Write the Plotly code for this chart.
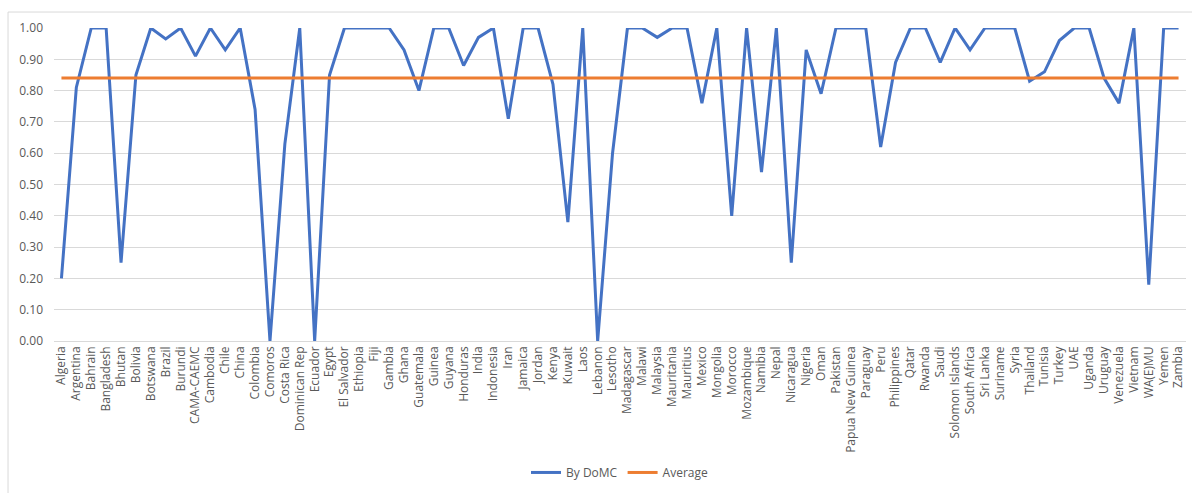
import plotly.graph_objects as go

countries = [
    "Algeria", "Argentina", "Bahrain", "Bangladesh", "Bhutan", "Bolivia", "Botswana",
    "Brazil", "Burundi", "CAMA-CAEMC", "Cambodia", "Chile", "China", "Colombia",
    "Comoros", "Costa Rica", "Dominican Rep", "Ecuador", "Egypt", "El Salvador",
    "Ethiopia", "Fiji", "Gambia", "Ghana", "Guatemala", "Guinea", "Guyana", "Honduras",
    "India", "Indonesia", "Iran", "Jamaica", "Jordan", "Kenya", "Kuwait", "Laos",
    "Lebanon", "Lesotho", "Madagascar", "Malawi", "Malaysia", "Mauritania", "Mauritius",
    "Mexico", "Mongolia", "Morocco", "Mozambique", "Namibia", "Nepal", "Nicaragua",
    "Nigeria", "Oman", "Pakistan", "Papua New Guinea", "Paraguay", "Peru", "Philippines",
    "Qatar", "Rwanda", "Saudi", "Solomon Islands", "South Africa", "Sri Lanka",
    "Suriname", "Syria", "Thailand", "Tunisia", "Turkey", "UAE", "Uganda", "Uruguay",
    "Venezuela", "Vietnam", "WA(E)MU", "Yemen", "Zambia",
]

by_domc = [
    0.20, 0.81, 1.00, 1.00, 0.25, 0.85, 1.00,
    0.965, 1.00, 0.91, 1.00, 0.93, 1.00, 0.74,
    0.00, 0.63, 1.00, 0.00, 0.85, 1.00,
    1.00, 1.00, 1.00, 0.93, 0.80, 1.00, 1.00, 0.88,
    0.97, 1.00, 0.71, 1.00, 1.00, 0.82, 0.38, 1.00,
    0.00, 0.60, 1.00, 1.00, 0.97, 1.00, 1.00,
    0.76, 1.00, 0.40, 1.00, 0.54, 1.00, 0.25,
    0.93, 0.79, 1.00, 1.00, 1.00, 0.62, 0.89,
    1.00, 1.00, 0.89, 1.00, 0.93, 1.00,
    1.00, 1.00, 0.83, 0.86, 0.96, 1.00, 1.00, 0.84,
    0.76, 1.00, 0.18, 1.00, 1.00,
]

average_value = 0.84
average = [average_value] * len(countries)

y_ticks = [i / 10 for i in range(11)]

font_family = "'Open Sans', sans-serif"
text_color = "#595959"
grid_color = "#d9d9d9"

fig = go.Figure()
fig.add_trace(go.Scatter(
    x=countries, y=by_domc, mode="lines", name="By DoMC",
    line=dict(color="#4472C4", width=3),
))
fig.add_trace(go.Scatter(
    x=countries, y=average, mode="lines", name="Average",
    line=dict(color="#ED7D31", width=3),
))

# Chart frame (top and left edges)
fig.add_shape(type="line", xref="paper", yref="paper",
              x0=-0.0406, x1=1.2, y0=1.051, y1=1.051,
              line=dict(color=grid_color, width=1))
fig.add_shape(type="line", xref="paper", yref="paper",
              x0=-0.0406, x1=-0.0406, y0=1.051, y1=-1.0,
              line=dict(color=grid_color, width=1))

fig.update_layout(
    width=1192, height=493,
    margin=dict(l=54, r=6, t=28, b=152),
    paper_bgcolor="white", plot_bgcolor="white",
    font=dict(family=font_family, size=12, color=text_color),
    showlegend=True,
    legend=dict(
        orientation="h", x=0.5, xanchor="center", y=-0.42, yanchor="middle",
        font=dict(family=font_family, size=12, color=text_color),
        itemwidth=30,
    ),
    hovermode=False,
)
fig.update_xaxes(
    type="category", range=[-0.5, len(countries) - 0.5],
    tickangle=-90, showgrid=False, showline=False, ticks="",
    tickfont=dict(family=font_family, size=12, color=text_color),
    ticklabelstandoff=2,
)
fig.update_yaxes(
    range=[0, 1], tickvals=y_ticks, tickformat=".2f",
    showgrid=True, gridcolor=grid_color, gridwidth=1,
    zeroline=True, zerolinecolor=grid_color, zerolinewidth=1,
    showline=False, ticks="",
    tickfont=dict(family=font_family, size=12, color=text_color),
    ticklabelstandoff=10,
)

fig.write_html("out.html")
